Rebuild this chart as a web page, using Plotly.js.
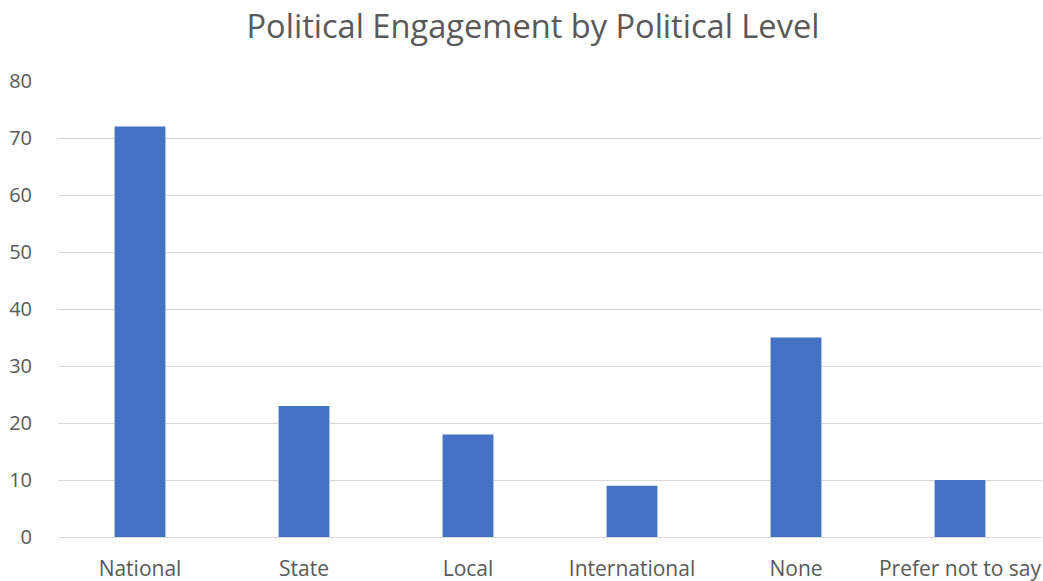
<!DOCTYPE html>
<html>
<head>
<meta charset="utf-8">
<script src="https://cdn.plot.ly/plotly-3.0.1.min.js"></script>
<style>html,body{margin:0;padding:0;background:#fff;}#chart{width:1043px;height:581px;}</style>
</head>
<body>
<div id="chart"></div>
<script>
const categories = ["National", "State", "Local", "International", "None", "Prefer not to say"];
const values = [72, 23, 18, 9, 35, 10];
const yTicks = [0, 10, 20, 30, 40, 50, 60, 70, 80];

const trace = {
  type: "bar",
  x: categories,
  y: values,
  marker: {color: "#4472C4"},
  hoverinfo: "x+y"
};

const layout = {
  width: 1043,
  height: 581,
  margin: {l: 58, r: 1, t: 81, b: 44},
  paper_bgcolor: "#ffffff",
  plot_bgcolor: "#ffffff",
  font: {family: "'Open Sans', sans-serif", color: "#595959", size: 18},
  title: {
    text: "Political Engagement by Political Level",
    font: {family: "'Open Sans', sans-serif", size: 32.6, color: "#595959"},
    x: 0.511, xanchor: "center",
    y: 0.955, yanchor: "middle"
  },
  bargap: 0.69,
  showlegend: false,
  xaxis: {
    type: "category",
    showgrid: false,
    showline: true,
    linecolor: "#d9d9d9",
    linewidth: 1,
    ticks: "",
    tickfont: {size: 21, color: "#595959"},
    ticklabelstandoff: 13
  },
  yaxis: {
    range: [0, 80],
    tickvals: yTicks,
    showgrid: true,
    gridcolor: "#d9d9d9",
    gridwidth: 1,
    zeroline: false,
    showline: false,
    ticks: "outside",
    ticklen: 21,
    tickcolor: "rgba(0,0,0,0)",
    tickfont: {size: 20, color: "#595959"}
  }
};

Plotly.newPlot("chart", [trace], layout, {displayModeBar: false, staticPlot: true});
</script>
</body>
</html>
